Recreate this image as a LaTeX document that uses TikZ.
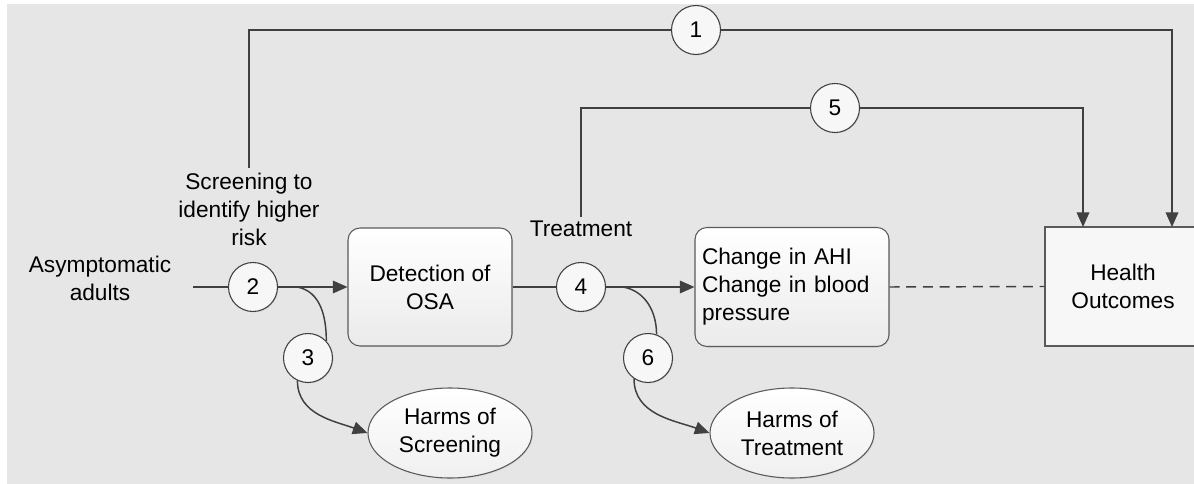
\documentclass[tikz,border=0pt]{standalone}
\usepackage{fontspec}
\setmainfont{Liberation Sans}
\usetikzlibrary{arrows.meta,shapes.geometric,shadows,calc}
\definecolor{bgc}{HTML}{E6E6E6}
\definecolor{lnc}{HTML}{404040}
\definecolor{bdc}{HTML}{5A5A5A}
\definecolor{boxfill}{HTML}{F7F7F7}
\begin{document}
\begin{tikzpicture}[x=0.75pt,y=-0.75pt,
  font=\fontsize{17pt}{21pt}\selectfont,
  shd/.style={drop shadow={opacity=0.12,shadow xshift=0.8pt,shadow yshift=-0.8pt}},
  rbox/.style={draw=bdc,line width=0.8pt,rounded corners=9pt,top color=white,bottom color=boxfill!95!black,shd,inner sep=0pt,align=center},
  sbox/.style={draw=bdc,line width=0.8pt,fill=boxfill,shd,inner sep=0pt,align=center},
  num/.style={circle,draw=lnc,line width=0.8pt,fill=white!97!black,shd,minimum size=36.75pt,inner sep=0pt},
  harm/.style={ellipse,draw=bdc,line width=0.8pt,top color=white,bottom color=boxfill!97!black,shd,minimum width=123pt,minimum height=67.5pt,inner sep=0pt,align=center},
  lbl/.style={align=center,inner sep=3pt},
  conn/.style={draw=lnc,line width=1.1pt},
  arr/.style={conn,-{Triangle[length=11pt,width=9.5pt]}},
  dconn/.style={conn,dash pattern=on 7.5pt off 5pt}
]
\useasboundingbox (0,0) rectangle (1194,484);
\clip (0,0) rectangle (1194,484);
\fill[bgc] (7,4) rectangle (1194,484);

% text labels
\node[lbl] (asy) at (100,278) {Asymptomatic\\adults};
\node[lbl] (scr) at (249,209) {Screening to\\identify higher\\risk};
\node[lbl] (trt) at (581,229) {Treatment};

% boxes
\node[rbox,minimum width=123pt,minimum height=88.5pt] (det) at (430,287) {Detection of\\OSA};
\node[rbox,minimum width=145.5pt,minimum height=89.25pt,text width=135pt,inner xsep=5.25pt,align=left] (chg) at (792,287) {Change in AHI\\Change in blood\\pressure};
\node[sbox,minimum width=117pt,minimum height=89.25pt] (hl) at (1123,286.5) {Health\\Outcomes};
\node[harm] (hs) at (450,433) {Harms of\\Screening};
\node[harm] (ht) at (792,433) {Harms of\\Treatment};

% numbered circles
\node[num] (c1) at (696,30) {1};
\node[num] (c2) at (253,287) {2};
\node[num] (c3) at (308,358) {3};
\node[num] (c4) at (581,287) {4};
\node[num] (c5) at (835,108) {5};
\node[num] (c6) at (648,358) {6};

% helper coordinates
\coordinate (a0) at (193,287);
\coordinate (b2) at (297,287);
\coordinate (b4) at (623,287);
\coordinate (h1) at (1172,227);
\coordinate (h5) at (1083,227);

% connectors
\draw[conn] (scr.north) |- (c1.west);
\draw[arr] (c1.east) -| (h1);
\draw[conn] (trt.north) |- (c5.west);
\draw[arr] (c5.east) -| (h5);

\draw[conn] (a0) -- (c2.west);
\draw[arr] (c2.east) -- (det.west);
\draw[conn] (det.east) -- (c4.west);
\draw[arr] (c4.east) -- (chg.west);
\draw[dconn] (chg.east) -- (hl.west);

\draw[conn] (b2) to[out=-10,in=90] (c3.43);
\draw[arr] (c3.245) to[out=-90,in=160] (hs.west);
\draw[conn] (b4) to[out=-10,in=90] (c6.70);
\draw[arr] (c6.236) to[out=-90,in=160] (ht.west);
\end{tikzpicture}
\end{document}
